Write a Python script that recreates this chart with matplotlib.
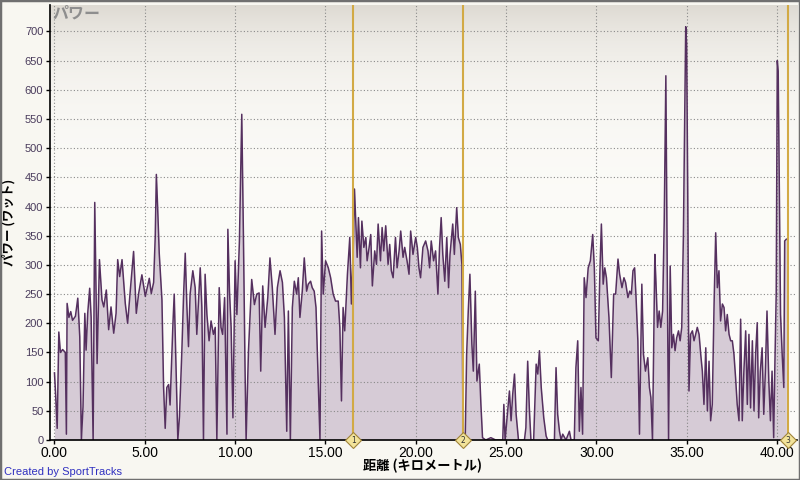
import matplotlib
matplotlib.use("Agg")
import matplotlib.pyplot as plt
import numpy as np
from matplotlib.patches import Rectangle

# power trace (km, watts)
dist = [0.0, 0.06, 0.15, 0.24, 0.33, 0.45, 0.6, 0.66, 0.7, 0.8, 0.9, 1.0, 1.16, 1.29, 1.4, 1.49,
        1.58, 1.68, 1.75, 1.84, 1.95, 2.03, 2.14, 2.23, 2.36, 2.49, 2.63, 2.73, 2.87, 3.0,
        3.13, 3.28, 3.41, 3.5, 3.61, 3.74, 3.92, 4.05, 4.2, 4.38, 4.53, 4.66, 4.84, 5.03,
        5.25, 5.36, 5.49, 5.58, 5.64, 5.71, 5.8, 5.95, 6.04, 6.13, 6.22, 6.32, 6.4, 6.56,
        6.63, 6.74, 6.83, 6.92, 7.05, 7.15, 7.24, 7.33, 7.42, 7.51, 7.66, 7.79, 7.88,
        8.07, 8.16, 8.25, 8.34, 8.44, 8.56, 8.67, 8.8, 8.9, 8.99, 9.12, 9.22, 9.31, 9.42,
        9.55, 9.6, 9.69, 9.78, 9.88, 10.0, 10.1, 10.24, 10.37, 10.46, 10.55, 10.61, 10.74,
        10.92, 11.07, 11.2, 11.33, 11.42, 11.53, 11.66, 11.81, 11.93, 12.06, 12.21, 12.34,
        12.49, 12.62, 12.73, 12.86, 12.95, 13.06, 13.17, 13.28, 13.41, 13.5, 13.59, 13.72,
        13.83, 13.96, 14.05, 14.18, 14.27, 14.38, 14.48, 14.61, 14.7, 14.79, 14.88, 15.01,
        15.16, 15.29, 15.43, 15.56, 15.71, 15.8, 15.89, 15.98, 16.07, 16.22, 16.35, 16.44,
        16.54, 16.61, 16.68, 16.76, 16.83, 16.94, 17.02, 17.13, 17.24, 17.31, 17.42, 17.51,
        17.6, 17.73, 17.83, 17.92, 18.05, 18.14, 18.23, 18.34, 18.47, 18.56, 18.65, 18.75,
        18.88, 18.97, 19.08, 19.17, 19.3, 19.39, 19.52, 19.63, 19.72, 19.85, 20.0, 20.09,
        20.18, 20.27, 20.4, 20.55, 20.68, 20.77, 20.86, 20.99, 21.1, 21.23, 21.32, 21.41,
        21.5, 21.61, 21.72, 21.82, 21.9, 22.05, 22.14, 22.27, 22.36, 22.47, 22.56, 22.62,
        22.74, 22.82, 22.91, 23.0, 23.11, 23.19, 23.3, 23.39, 23.52, 23.61, 23.7, 23.88,
        24.16, 24.43, 24.82, 24.88, 24.95, 25.06, 25.19, 25.28, 25.37, 25.47, 25.56, 25.69,
        26.02, 26.1, 26.2, 26.29, 26.38, 26.53, 26.67, 26.76, 26.85, 26.95, 27.09, 27.22,
        27.31, 27.68, 27.77, 27.86, 27.96, 28.05, 28.14, 28.32, 28.51, 28.6, 28.78, 28.87,
        28.97, 29.06, 29.15, 29.24, 29.33, 29.43, 29.55, 29.67, 29.8, 29.89, 29.98, 30.11,
        30.2, 30.28, 30.38, 30.47, 30.56, 30.7, 30.83, 30.96, 31.07, 31.2, 31.29, 31.42,
        31.53, 31.62, 31.75, 31.85, 31.94, 32.03, 32.12, 32.2, 32.3, 32.39, 32.52, 32.61,
        32.72, 32.85, 32.94, 33.02, 33.11, 33.24, 33.3, 33.39, 33.48, 33.57, 33.67, 33.76,
        33.85, 33.92, 34.0, 34.09, 34.18, 34.27, 34.36, 34.45, 34.55, 34.64, 34.73, 34.82,
        34.91, 34.95, 35.0, 35.06, 35.13, 35.22, 35.32, 35.41, 35.5, 35.59, 35.69, 35.78,
        35.87, 35.96, 36.06, 36.15, 36.24, 36.33, 36.42, 36.52, 36.61, 36.7, 36.79, 36.88,
        36.98, 37.07, 37.16, 37.25, 37.35, 37.44, 37.53, 37.62, 37.71, 37.8, 37.9, 37.99,
        38.08, 38.17, 38.27, 38.36, 38.45, 38.54, 38.64, 38.73, 38.82, 38.91, 38.99, 39.08,
        39.18, 39.27, 39.36, 39.45, 39.55, 39.64, 39.73, 39.82, 39.88, 39.96, 40.02, 40.07,
        40.15, 40.2, 40.29, 40.38, 40.43, 40.52]
power = [115, 80, 20, 185, 150, 155, 150, 10, 234, 210, 220, 205, 212, 243, 177, 0,
         57, 217, 154, 217, 260, 210, 0, 407, 131, 309, 240, 228, 257, 189,
         228, 183, 217, 309, 280, 309, 234, 200, 257, 323, 217, 251, 283, 246,
         277, 251, 270, 350, 455, 400, 320, 240, 91, 20, 90, 95, 60, 200,
         250, 110, 0, 40, 150, 250, 320, 230, 160, 250, 290, 261, 181,
         295, 227, 0, 284, 215, 170, 204, 181, 193, 0, 261, 193, 181, 244,
         10, 361, 255, 193, 38, 307, 215, 341, 558, 352, 124, 0, 152,
         275, 232, 250, 252, 118, 264, 193, 244, 312, 261, 181, 261,
         290, 270, 210, 15, 221, 0, 227, 272, 250, 278, 210, 255,
         312, 255, 267, 272, 261, 255, 227, 95, 0, 358, 250, 307,
         295, 278, 250, 238, 238, 193, 67, 227, 187, 284, 347, 233,
         324, 430, 375, 313, 381, 295, 375, 330, 347, 307, 330, 352,
         264, 324, 301, 370, 307, 364, 324, 367, 301, 335, 290, 278,
         347, 295, 324, 358, 313, 330, 307, 284, 358, 318, 347, 330,
         295, 278, 330, 341, 324, 295, 341, 307, 324, 250, 330, 381,
         318, 272, 347, 261, 318, 370, 318, 398, 347, 335, 300, 5,
         0, 147, 221, 284, 164, 118, 255, 101, 130, 61, 4, 0,
         4, 0, 0, 61, 0, 38, 84, 33, 78, 113, 44, 0,
         0, 21, 135, 55, 0, 0, 130, 113, 153, 90, 38, 7,
         0, 0, 124, 44, 15, 0, 10, 0, 15, 0, 0, 124,
         170, 15, 90, 10, 278, 244, 295, 307, 352, 295, 175, 170,
         290, 370, 267, 295, 278, 210, 107, 250, 250, 310, 284, 261,
         278, 270, 244, 255, 250, 290, 295, 244, 170, 10, 267, 147,
         118, 141, 90, 73, 0, 318, 272, 193, 221, 193, 221, 375,
         624, 318, 0, 298, 158, 181, 153, 175, 187, 170, 193, 347,
         604, 708, 678, 432, 84, 181, 187, 170, 181, 193, 181, 147,
         118, 61, 158, 50, 135, 33, 61, 233, 355, 261, 290, 204,
         233, 227, 187, 215, 181, 170, 170, 147, 107, 61, 33, 207,
         33, 118, 187, 61, 181, 55, 170, 50, 147, 201, 38, 118,
         158, 44, 118, 221, 101, 33, 118, 4, 118, 250, 650, 632,
         375, 215, 147, 90, 341, 344]

markers_km = [16.54, 22.63, 40.63]
marker_labels = ["1", "2", "3"]

x_ticks = [0, 5, 10, 15, 20, 25, 30, 35, 40]
y_ticks = list(range(0, 701, 50))

jp = ["Noto Sans CJK JP", "DejaVu Sans"]

fig = plt.figure(figsize=(8, 4.8), dpi=100, facecolor="#f8f7f1")
ax = fig.add_axes([0.062, 0.0833, 0.934, 0.906])

# gray-to-white gradient at top of plot area
t = np.linspace(0, 1, 300)[:, None]
k = np.exp(-t / 0.13)
top = np.array([0.87, 0.855, 0.825])
bot = np.array([0.99, 0.988, 0.975])
grad = bot + (top - bot) * k[..., None]
ax.imshow(grad, extent=[0, 1, 0, 1], transform=ax.transAxes, aspect="auto",
          origin="upper", zorder=0)

ax.fill_between(dist, power, 0, color="#d6cbd6", lw=0, zorder=2)
ax.plot(dist, power, color="#55305f", lw=1.1, zorder=3)

ax.set_xlim(-0.27, 41.1)
ax.set_ylim(0, 745)
ax.set_xticks(x_ticks)
ax.set_xticklabels(["%.2f" % v for v in x_ticks],
                   fontfamily=["Liberation Sans Narrow", "Liberation Sans"], fontsize=10)
ax.set_yticks(y_ticks)
ax.set_yticklabels([str(v) for v in y_ticks], fontfamily="Liberation Sans",
                   fontsize=8, color="#4a3c5c")
ax.tick_params(axis="both", length=3, width=1, pad=1.5, direction="out")

ax.grid(True, linestyle=(0, (1, 2)), color="#8a8a8a", lw=0.8, zorder=1)
ax.set_axisbelow(False)
for s in ["top", "right"]:
    ax.spines[s].set_visible(False)
for s in ["left", "bottom"]:
    ax.spines[s].set_linewidth(1.2)
    ax.spines[s].set_zorder(6)

for km, lab in zip(markers_km, marker_labels):
    ax.axvline(km, color="#d2aa45", lw=1.5, zorder=4)
    ax.plot(km, 0, marker="D", ms=8, mfc="#f2e39a", mec="#a0843a", mew=0.8,
            clip_on=False, zorder=7)
    ax.text(km, 0, lab, fontsize=5.5, ha="center", va="center", color="#333",
            clip_on=False, zorder=8)

ax.text(0.004, 0.999, "パワー", transform=ax.transAxes, ha="left", va="top",
        fontsize=11.5, fontweight="bold", color="#8e8e8e", fontfamily=jp, zorder=9)

fig.text(0.011, 0.537, "パワー (ワット)", rotation=90, ha="center", va="center",
         fontsize=9, fontweight="bold", fontfamily=jp)
fig.text(0.528, 0.029, "距離 (キロメートル)", ha="center", va="center",
         fontsize=9.5, fontweight="bold", fontfamily=jp)
fig.text(0.005, 0.017, "Created by SportTracks", ha="left", va="center",
         fontsize=8, color="#3030c0", fontfamily="Liberation Sans")

fig.patches.append(Rectangle((0, 0), 1, 1, transform=fig.transFigure, fill=False,
                             edgecolor="#707070", lw=2.5))

fig.savefig("out.png", dpi=100, facecolor=fig.get_facecolor())
